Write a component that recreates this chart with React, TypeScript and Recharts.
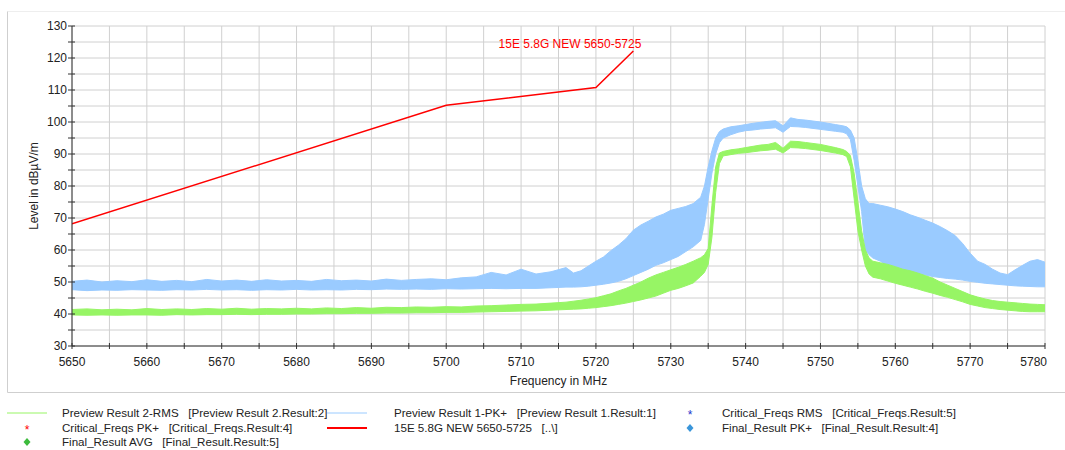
import React from 'react';
import { ComposedChart, Area, Line, XAxis, YAxis, CartesianGrid, LabelList } from 'recharts';

// Frequency points (MHz)
const freqMHz = [
  5650, 5652, 5654, 5656, 5658, 5660, 5662, 5664, 5666, 5668, 5670, 5672, 5674, 5676, 5678, 5680, 5682,
  5684, 5686, 5688, 5690, 5692, 5694, 5696, 5698, 5700, 5702, 5704, 5706, 5708, 5710, 5712, 5714, 5716,
  5717, 5718, 5719, 5720, 5721, 5722, 5723, 5724, 5725, 5726, 5727, 5728, 5729, 5730, 5731, 5732, 5733, 5734,
  5734.5, 5735, 5735.5, 5736, 5736.5, 5737, 5738,
  5739, 5740, 5741, 5742, 5743, 5744, 5745, 5746, 5747, 5748, 5749, 5750, 5751, 5752, 5753,
  5753.5, 5754, 5754.5, 5755, 5755.5, 5756, 5756.5, 5757, 5758,
  5759, 5760, 5761, 5762, 5763, 5764, 5765, 5766, 5767, 5768, 5769, 5770, 5771, 5772, 5773, 5774, 5775,
  5776, 5777, 5778, 5779, 5780,
];

// Preview Result 1-PK+ (noise band min / max, dBµV/m)
const pkLow = [
  47.6, 47.3, 47.5, 47.4, 47.6, 47.5, 47.4, 47.6, 47.5, 47.7, 47.5, 47.6, 47.4, 47.6, 47.5, 47.7, 47.5,
  47.6, 47.5, 47.7, 47.6, 47.8, 47.7, 47.8, 47.7, 47.9, 47.8, 47.9, 48.0, 47.9, 48.0, 48.0, 48.2, 48.4,
  48.4, 48.5, 48.7, 49.0, 49.3, 49.7, 50.2, 51.0, 52.0, 53.0, 54.0, 55.2, 56.0, 57.0, 58.0, 59.5, 61.0, 63.0,
  68, 76, 84, 90, 93.5, 95, 96,
  96.8, 97.3, 97.5, 97.8, 98.0, 98.2, 96.8, 98.6, 98.5, 98.3, 98.0, 97.7, 97.4, 97.1, 96.8,
  96.3, 94.5, 88, 80, 72, 60, 58.5, 57.5, 56.5,
  55.0, 54.3, 53.8, 53.2, 52.7, 52.2, 51.7, 51.4, 51.1, 50.9, 50.6, 50.2, 49.9, 49.6, 49.4, 49.2, 49.0,
  48.8, 48.7, 48.6, 48.5, 48.5,
];
const pkHigh = [
  50.2, 50.6, 50.0, 50.4, 50.1, 50.7, 50.2, 50.5, 50.1, 50.8, 50.3, 50.6, 50.2, 50.7, 50.3, 50.5, 50.2,
  50.8, 50.4, 50.6, 50.3, 50.9, 50.5, 50.8, 51.0, 50.7, 51.3, 51.6, 53.0, 52.2, 54.0, 52.5, 53.2, 54.5,
  52.8, 53.5, 55.0, 56.5, 57.8, 59.8, 61.5, 63.5, 66.2, 67.8, 69.0, 70.3, 71.2, 72.4, 73.0, 73.6, 74.5, 76.5,
  80, 86, 91, 95, 97, 97.8, 98.5,
  98.8, 99.2, 99.6, 99.9, 100.2, 100.4, 98.8, 101.3, 100.8, 100.6, 100.3, 100.0, 99.6, 99.2, 98.8,
  98.5, 97.5, 95, 88, 80, 76, 74.5, 74.5, 74.0,
  73.5, 72.8, 72.0, 71.0, 70.2, 69.3, 68.4, 67.3, 66.0, 64.5, 62.0, 59.0, 56.5, 55.5, 54.0, 52.8, 52.3,
  53.8, 55.2, 56.5, 57.0, 56.2,
];

// Preview Result 2-RMS (noise band min / max, dBµV/m)
const rmsLow = [
  39.7, 39.6, 39.7, 39.6, 39.7, 39.7, 39.6, 39.8, 39.7, 39.8, 39.8, 39.9, 39.8, 39.9, 39.9, 40.0, 40.0,
  40.1, 40.1, 40.2, 40.2, 40.3, 40.3, 40.4, 40.4, 40.5, 40.5, 40.6, 40.7, 40.8, 40.9, 41.0, 41.2, 41.4,
  41.5, 41.6, 41.8, 42.0, 42.3, 42.6, 43.0, 43.4, 43.9, 44.4, 45.0, 45.6, 46.5, 47.4, 48.0, 48.8, 49.7, 51.8,
  53, 55.5, 64, 78, 87, 89.4, 89.8,
  90.2, 90.4, 90.7, 91.0, 91.2, 91.5, 90.3, 92.0, 91.9, 91.7, 91.4, 91.1, 90.7, 90.3, 89.8,
  89.2, 86, 76, 66, 60, 55, 52.5, 51.5, 51,
  50.3, 49.6, 49.0, 48.4, 47.8, 47.1, 46.5, 45.8, 45.2, 44.5, 43.8, 43.0, 42.5, 42.0, 41.7, 41.4, 41.2,
  41.0, 40.8, 40.7, 40.7, 40.7,
];
const rmsHigh = [
  41.4, 41.6, 41.3, 41.5, 41.3, 41.7, 41.4, 41.6, 41.4, 41.7, 41.5, 41.8, 41.5, 41.7, 41.6, 41.8, 41.6,
  41.9, 41.7, 42.0, 41.8, 42.1, 42.0, 42.2, 42.1, 42.3, 42.2, 42.5, 42.6, 42.8, 43.0, 43.1, 43.4, 43.7,
  44.0, 44.3, 44.7, 45.1, 45.7, 46.3, 47.2, 48.0, 49.0, 50.0, 51.2, 52.2, 53.0, 53.8, 54.6, 55.5, 56.5, 57.6,
  58.5, 60.5, 74, 86, 90.3, 90.8, 91.3,
  91.6, 92.0, 92.4, 92.8, 93.0, 93.6, 91.8, 94.0, 93.9, 93.6, 93.3, 93.0, 92.5, 92.0, 91.4,
  90.8, 89.5, 84, 75, 66, 60, 57.5, 56.5, 56,
  55.5, 54.8, 54.0, 53.5, 52.8, 52.0, 51.2, 50.0, 49.0, 48.0, 47.0, 46.0, 45.3, 44.7, 44.2, 43.9, 43.7,
  43.5, 43.3, 43.1, 43.0, 42.9,
];

// Limit line 15E 5.8G NEW 5650-5725
const limitFreqs = [5650, 5700, 5720, 5725];
const limitLevels = [68.2, 105.2, 110.8, 122.2];
const limitName = '15E 5.8G NEW 5650-5725';

// Axis ticks
const xTicks = [5650, 5655, 5660, 5665, 5670, 5675, 5680, 5685, 5690, 5695, 5700, 5705, 5710, 5715, 5720,
  5725, 5730, 5735, 5740, 5745, 5750, 5755, 5760, 5765, 5770, 5775, 5780];
const yTicks = [30, 35, 40, 45, 50, 55, 60, 65, 70, 75, 80, 85, 90, 95, 100, 105, 110, 115, 120, 125, 130];

const legendRows = [
  ['Preview Result 2-RMS   [Preview Result 2.Result:2]', 'Preview Result 1-PK+   [Preview Result 1.Result:1]', 'Critical_Freqs RMS   [Critical_Freqs.Result:5]'],
  ['Critical_Freqs PK+   [Critical_Freqs.Result:4]', '15E 5.8G NEW 5650-5725   [..\\]', 'Final_Result PK+   [Final_Result.Result:4]'],
  ['Final_Result AVG   [Final_Result.Result:5]', '', ''],
];

const BLUE = '#9ACBFF';
const GREEN = '#97F565';
const RED = '#FF0000';
const FONT = '"Liberation Sans", Arial, sans-serif';

const data = freqMHz.map((f, i) => ({ f, pk: [pkLow[i], pkHigh[i]], rms: [rmsLow[i], rmsHigh[i]] }));
const limitData = limitFreqs.map((f, i) => ({ f, limit: limitLevels[i] }));

const XTick = (props: any) => {
  const { x, y, payload } = props;
  const v = payload.value;
  const major = v % 10 === 0;
  const last = v === xTicks[xTicks.length - 1];
  return (
    <g>
      <line x1={x} x2={x} y1={y - 3} y2={y + 3} stroke="#333" />
      {major && (
        <text x={last ? x + 2 : x} y={y + 20} textAnchor={last ? 'end' : 'middle'} fontSize={12} fill="#222" fontFamily={FONT}>
          {v}
        </text>
      )}
    </g>
  );
};

const YTick = (props: any) => {
  const { x, y, payload } = props;
  const v = payload.value;
  const major = v % 10 === 0;
  return (
    <g>
      <line x1={x - 4} x2={x + 3} y1={y} y2={y} stroke="#333" />
      {major && (
        <text x={x - 5} y={y + 4} textAnchor="end" fontSize={12} fill="#222" fontFamily={FONT}>
          {v}
        </text>
      )}
    </g>
  );
};

const LimitLabel = (props: any) => {
  const { x, y, index } = props;
  if (index !== limitLevels.length - 1) return null;
  return (
    <text x={x + 8} y={y - 3} textAnchor="end" fill={RED} fontSize={12} fontFamily={FONT}>
      {limitName}
    </text>
  );
};

const LegendMarker = ({ kind, cx, cy }: { kind: string; cx: number; cy: number }) => {
  switch (kind) {
    case 'greenLine':
      return <line x1={cx - 20} x2={cx + 20} y1={cy} y2={cy} stroke={GREEN} strokeWidth={1} />;
    case 'blueLine':
      return <line x1={cx - 20} x2={cx + 20} y1={cy} y2={cy} stroke={BLUE} strokeWidth={1} />;
    case 'redLine':
      return <line x1={cx - 20} x2={cx + 20} y1={cy} y2={cy} stroke={RED} strokeWidth={2} />;
    case 'redStar':
      return <text x={cx} y={cy + 6} textAnchor="middle" fill={RED} fontSize={12} fontFamily={FONT}>*</text>;
    case 'blueStar':
      return <text x={cx} y={cy + 6} textAnchor="middle" fill="#2233CC" fontSize={12} fontFamily={FONT}>*</text>;
    case 'greenDiamond':
      return <polygon points={`${cx},${cy - 4} ${cx + 3.5},${cy} ${cx},${cy + 4} ${cx - 3.5},${cy}`} fill="#3DBB3D" />;
    case 'blueDiamond':
      return <polygon points={`${cx},${cy - 4} ${cx + 3.5},${cy} ${cx},${cy + 4} ${cx - 3.5},${cy}`} fill="#3A96DA" />;
    default:
      return null;
  }
};

const legendMarkers = [
  ['greenLine', 'blueLine', 'blueStar'],
  ['redStar', 'redLine', 'blueDiamond'],
  ['greenDiamond', '', ''],
];

export default function App() {
  const colMarkerX = [27, 347, 690];
  const colTextX = [62, 394, 722];
  const rowY = [18, 33, 47];
  return (
    <div style={{ position: 'absolute', left: 0, top: 0, width: 1065, height: 450, background: '#fff', fontFamily: FONT }}>
      <svg width={1065} height={450} style={{ position: 'absolute', left: 0, top: 0 }}>
        <line x1={7.5} x2={1065} y1={11.5} y2={11.5} stroke="#eeeeee" />
        <line x1={7.5} x2={7.5} y1={11.5} y2={392.5} stroke="#cfcfcf" />
        <line x1={7.5} x2={1065} y1={392.5} y2={392.5} stroke="#cfcfcf" />
      </svg>
      <div style={{ position: 'absolute', left: 0, top: 0 }}>
        <ComposedChart width={1065} height={400} data={data} margin={{ top: 26, right: 20, bottom: 24, left: 0 }}>
          <CartesianGrid stroke="#d0d0d0" />
          <XAxis
            type="number"
            dataKey="f"
            domain={[5650, 5780]}
            ticks={xTicks}
            interval={0}
            allowDataOverflow
            height={30}
            tickSize={0}
            tickMargin={0}
            tickLine={false}
            tick={<XTick />}
            axisLine={{ stroke: '#333' }}
            label={{ value: 'Frequency in MHz', position: 'bottom', offset: 0, fontSize: 12, fill: '#222' }}
          />
          <YAxis
            type="number"
            domain={[30, 130]}
            ticks={yTicks}
            interval={0}
            allowDataOverflow
            width={72}
            tickSize={0}
            tickMargin={0}
            tickLine={false}
            tick={<YTick />}
            axisLine={{ stroke: '#333' }}
            label={{ value: 'Level in dBµV/m', angle: -90, position: 'center', dx: -2, fontSize: 12, fill: '#222' }}
          />
          <Area
            dataKey="pk"
            type="linear"
            stroke={BLUE}
            strokeWidth={1}
            fill={BLUE}
            fillOpacity={1}
            dot={false}
            activeDot={false}
            isAnimationActive={false}
          />
          <Area
            dataKey="rms"
            type="linear"
            stroke={GREEN}
            strokeWidth={1}
            fill={GREEN}
            fillOpacity={1}
            dot={false}
            activeDot={false}
            isAnimationActive={false}
          />
          <Line
            data={limitData}
            dataKey="limit"
            type="linear"
            stroke={RED}
            strokeWidth={1.5}
            dot={false}
            activeDot={false}
            isAnimationActive={false}
          >
            <LabelList dataKey="limit" content={<LimitLabel />} />
          </Line>
        </ComposedChart>
      </div>
      <svg width={1065} height={55} style={{ position: 'absolute', left: 0, top: 395 }}>
        {legendRows.map((row, r) =>
          row.map((label, c) =>
            label ? (
              <g key={`${r}-${c}`}>
                <LegendMarker kind={legendMarkers[r][c]} cx={colMarkerX[c]} cy={rowY[r]} />
                <text x={colTextX[c]} y={rowY[r] + 4} fontSize={11.6} fill="#222" fontFamily={FONT} style={{ whiteSpace: 'pre' }}>
                  {label}
                </text>
              </g>
            ) : null
          )
        )}
      </svg>
    </div>
  );
}
